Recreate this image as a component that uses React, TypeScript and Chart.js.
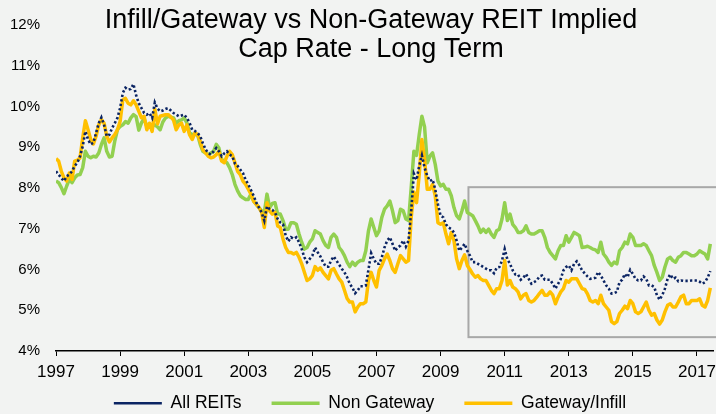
import React, { useEffect, useRef } from "react";
import { Chart, registerables } from "chart.js";

Chart.register(...registerables);

const START_YEAR = 1997;
const X_MIN = 1997;
const X_MAX = 2017.5;
const TICK_YEARS = [1997, 1999, 2001, 2003, 2005, 2007, 2009, 2011, 2013, 2015, 2017];
const Y_MIN = 4;
const Y_MAX = 12;

const TITLE_LINES = ["Infill/Gateway vs Non-Gateway REIT Implied", "Cap Rate - Long Term"];
const SERIES_NAMES = ["All REITs", "Non Gateway", "Gateway/Infill"];

// monthly values, Jan 1997 .. Jun 2017 (percent)
const ALL_REITS = [
  8.41, 8.33, 8.24, 8.17, 8.29, 8.33, 8.41, 8.54, 8.62, 8.78, 9.02, 9.39,
  9.19, 9.07, 9.11, 9.35, 9.59, 9.73, 9.55, 9.27, 9.31, 9.47, 9.59, 9.72,
  9.96, 10.33, 10.46, 10.41, 10.43, 10.55, 10.28, 10.08, 9.96, 9.84, 9.8, 9.84,
  9.72, 10.1, 9.95, 9.88, 9.9, 9.94, 9.96, 9.9, 9.84, 9.8, 9.76, 9.78,
  9.8, 9.72, 9.6, 9.43, 9.4, 9.35, 9.27, 9.1, 8.95, 8.86, 8.82, 8.9,
  8.98, 8.9, 8.78, 8.85, 8.9, 8.82, 8.78, 8.6, 8.54, 8.45, 8.37, 8.2,
  8.09, 7.95, 7.81, 7.64, 7.52, 7.4, 7.2, 7.55, 7.48, 7.46, 7.4, 7.24,
  7.15, 7.11, 6.83, 6.69, 6.79, 6.75, 6.79, 6.67, 6.5, 6.3, 6.18, 6.26,
  6.34, 6.54, 6.42, 6.32, 6.18, 6.07, 6.07, 6.22, 6.32, 6.22, 6.12, 6.02,
  5.93, 5.81, 5.65, 5.55, 5.42, 5.49, 5.59, 5.59, 5.61, 6.0, 6.4, 6.26,
  6.14, 6.14, 6.3, 6.54, 6.71, 6.79, 6.63, 6.46, 6.54, 6.59, 6.71, 6.56,
  6.71, 7.44, 8.35, 8.2, 8.55, 8.8, 8.5, 8.3, 8.17, 8.21, 7.97, 7.6,
  7.32, 7.28, 7.11, 7.03, 6.99, 6.91, 6.71, 6.46, 6.54, 6.63, 6.46, 6.34,
  6.18, 6.18, 6.14, 6.1, 6.06, 6.02, 5.98, 5.98, 5.91, 6.04, 6.06, 6.22,
  6.5, 6.25, 6.14, 5.98, 5.88, 5.88, 5.75, 5.8, 5.89, 5.77, 5.65, 5.69,
  5.73, 5.83, 5.85, 5.75, 5.75, 5.75, 5.65, 5.53, 5.65, 5.77, 5.98, 6.06,
  6.1, 5.98, 6.14, 6.2, 6.1, 5.98, 5.9, 5.83, 5.77, 5.78, 5.8, 5.94,
  5.85, 5.73, 5.61, 5.53, 5.41, 5.42, 5.45, 5.69, 5.75, 5.89, 5.81, 5.99,
  5.89, 5.77, 5.73, 5.73, 5.83, 5.77, 5.61, 5.61, 5.57, 5.37, 5.26, 5.37,
  5.53, 5.77, 5.88, 5.77, 5.8, 5.71, 5.73, 5.72, 5.72, 5.72, 5.73, 5.73,
  5.73, 5.7, 5.65, 5.69, 5.8, 5.96,
];

const NON_GATEWAY = [
  8.17, 8.13, 8.01, 7.86, 8.05, 8.21, 8.13, 8.25, 8.32, 8.33, 8.5, 8.9,
  8.78, 8.74, 8.78, 8.76, 8.86, 9.07, 9.23, 8.9, 8.76, 8.78, 9.15, 9.43,
  9.51, 9.55, 9.63, 9.59, 9.72, 9.8, 9.75, 9.42, 9.6, 9.7, 9.52, 9.55,
  9.51, 9.55, 9.5, 9.43, 9.62, 9.72, 9.76, 9.74, 9.72, 9.59, 9.65, 9.67,
  9.72, 9.6, 9.35, 9.31, 9.31, 9.31, 9.07, 8.9, 8.86, 8.82, 8.86, 8.9,
  9.07, 8.98, 8.7, 8.66, 8.62, 8.5, 8.33, 8.09, 7.93, 7.81, 7.76, 7.72,
  7.72, 7.85, 7.68, 7.6, 7.52, 7.44, 7.4, 7.85, 7.52, 7.62, 7.64, 7.36,
  7.36, 7.2, 6.99, 6.99, 7.15, 7.15, 7.11, 6.87, 6.67, 6.5, 6.54, 6.67,
  6.75, 6.95, 6.91, 6.87, 6.71, 6.59, 6.54, 6.79, 6.87, 6.79, 6.54, 6.46,
  6.34, 6.18, 6.07, 6.18, 6.1, 6.18, 6.22, 6.22, 6.46, 6.95, 7.24, 7.03,
  6.83, 6.95, 7.28, 7.48, 7.56, 7.68, 7.44, 7.15, 7.2, 7.48, 7.44, 7.24,
  7.2, 8.01, 8.9, 8.8, 9.31, 9.76, 9.5, 8.62, 8.78, 8.86, 8.58, 8.17,
  8.05, 8.09, 7.97, 7.97, 7.81, 7.52, 7.32, 7.24, 7.44, 7.68, 7.4, 7.36,
  7.32, 7.2, 7.07, 6.91, 6.99, 6.91, 6.99, 6.87, 6.79, 6.95, 6.99, 7.24,
  7.64, 7.2, 7.36, 7.11, 7.03, 6.91, 6.91, 6.95, 7.07, 6.91, 6.87, 6.87,
  6.91, 6.95, 6.95, 6.79, 6.54, 6.42, 6.34, 6.26, 6.46, 6.59, 6.59, 6.83,
  6.67, 6.79, 6.91, 6.87, 6.83, 6.54, 6.55, 6.57, 6.54, 6.5, 6.48, 6.42,
  6.67, 6.38, 6.3, 6.18, 6.1, 6.18, 6.14, 6.46, 6.54, 6.67, 6.63, 6.87,
  6.79, 6.59, 6.59, 6.59, 6.63, 6.59, 6.46, 6.34, 6.1, 5.93, 5.73, 5.81,
  6.06, 6.26, 6.3, 6.22, 6.18, 6.3, 6.34, 6.42, 6.42, 6.38, 6.34, 6.34,
  6.38, 6.46, 6.42, 6.38, 6.26, 6.63,
];

const GATEWAY_INFILL = [
  8.72, 8.66, 8.41, 8.25, 8.17, 8.37, 8.21, 8.66, 8.68, 8.74, 9.23, 9.65,
  9.43, 9.19, 9.08, 9.27, 9.55, 9.68, 9.59, 9.27, 9.13, 9.23, 9.31, 9.43,
  9.63, 10.16, 10.2, 10.08, 10.04, 10.14, 10.04, 9.88, 9.72, 9.76, 9.43, 9.59,
  9.39, 9.94, 9.57, 9.76, 9.78, 9.8, 9.8, 9.74, 9.67, 9.43, 9.55, 9.59,
  9.39, 9.55, 9.31, 9.19, 9.35, 9.31, 9.15, 8.94, 8.86, 8.78, 8.74, 8.76,
  8.82, 8.9, 8.66, 8.62, 8.78, 8.9, 8.82, 8.62, 8.41, 8.33, 8.17, 8.09,
  7.97, 7.85, 7.68, 7.6, 7.52, 7.4, 7.03, 7.64, 7.44, 7.36, 7.4, 7.07,
  7.03, 6.75, 6.54, 6.42, 6.42, 6.38, 6.42, 6.3, 6.14, 5.93, 5.73, 5.77,
  5.85, 6.07, 5.98, 6.04, 5.93, 5.85, 5.77, 5.98, 6.02, 5.89, 5.77, 5.69,
  5.49, 5.29, 5.2, 5.2, 4.96, 5.08, 5.16, 5.16, 5.2, 5.73, 5.93, 5.73,
  5.57, 5.98, 6.1, 6.26, 6.38, 6.22, 6.02, 5.93, 6.14, 6.34, 6.26, 6.18,
  6.22, 7.28, 7.9, 7.64, 8.33, 9.19, 8.7, 7.97, 7.97, 8.09, 7.81, 7.15,
  7.11, 7.15, 6.87, 6.63, 6.91, 6.71, 6.26, 6.02, 6.22, 6.36, 6.1, 6.0,
  5.89, 5.81, 5.85, 5.77, 5.73, 5.73, 5.61, 5.49, 5.41, 5.53, 5.53, 5.73,
  6.22, 5.62, 5.73, 5.57, 5.53, 5.45, 5.28, 5.37, 5.41, 5.24, 5.2, 5.24,
  5.32, 5.41, 5.49, 5.37, 5.37, 5.45, 5.37, 5.16, 5.32, 5.45, 5.53, 5.73,
  5.69, 5.77, 5.77, 5.77, 5.65, 5.53, 5.51, 5.4, 5.24, 5.2, 5.24, 5.16,
  5.37, 5.16, 5.08, 5.0, 4.72, 4.67, 4.72, 4.92, 5.0, 5.1, 5.04, 5.24,
  5.16, 4.96, 4.92, 4.96, 5.08, 5.2, 5.0, 4.88, 4.92, 4.76, 4.66, 4.76,
  4.96, 5.12, 5.16, 5.08, 5.08, 5.2, 5.33, 5.37, 5.16, 5.16, 5.24, 5.24,
  5.24, 5.28, 5.12, 5.08, 5.24, 5.55,
];

// highlighted post-crisis window (data coordinates)
const HIGHLIGHT_X = [2009.87, 2018.6];
const HIGHLIGHT_Y = [4.34, 8.02];

const BG = "#f2f3f2";
const FONT = '"Liberation Sans", Arial, Helvetica, sans-serif';
const NAVY = "#0b2463";
const GREEN = "#92d050";
const GOLD = "#ffc000";

const toPoints = (vals: number[]) => vals.map((v, i) => ({ x: START_YEAR + i / 12, y: v }));

export default function App() {
  const ref = useRef<HTMLCanvasElement | null>(null);

  useEffect(() => {
    document.body.style.margin = "0";
    document.body.style.background = BG;
    const canvas = ref.current;
    if (!canvas) return;

    const bgPlugin = {
      id: "bgFill",
      beforeDraw(chart: any) {
        const { ctx, width, height } = chart;
        ctx.save();
        ctx.fillStyle = BG;
        ctx.fillRect(0, 0, width, height);
        ctx.restore();
      },
    };

    const boxPlugin = {
      id: "highlightBox",
      beforeDatasetsDraw(chart: any) {
        const { ctx } = chart;
        const xs = chart.scales.x;
        const ys = chart.scales.y;
        const l = xs.getPixelForValue(HIGHLIGHT_X[0]);
        const r = xs.getPixelForValue(HIGHLIGHT_X[1]);
        const t = ys.getPixelForValue(HIGHLIGHT_Y[1]);
        const b = ys.getPixelForValue(HIGHLIGHT_Y[0]);
        ctx.save();
        ctx.strokeStyle = "#a8a8a8";
        ctx.lineWidth = 2;
        ctx.strokeRect(l, t, r - l, b - t);
        ctx.restore();
      },
    };

    const titlePlugin = {
      id: "overlayTitle",
      afterDraw(chart: any) {
        const { ctx } = chart;
        ctx.save();
        ctx.fillStyle = "#000";
        ctx.font = `27px ${FONT}`;
        ctx.textAlign = "center";
        ctx.textBaseline = "middle";
        ctx.fillText(TITLE_LINES[0], 371, 20.5);
        ctx.fillText(TITLE_LINES[1], 371, 49.5);
        ctx.restore();
      },
    };

    const legendShift = {
      id: "legendShift",
      afterLayout(chart: any) {
        const lg = chart.legend;
        if (lg) {
          const h = lg.bottom - lg.top;
          lg.left += 27;
          lg.top = 364.5;
          lg.bottom = lg.top + h;
        }
      },
    };

    const chart = new Chart(canvas, {
      type: "line",
      data: {
        datasets: [
          {
            label: SERIES_NAMES[0],
            data: toPoints(ALL_REITS),
            borderColor: NAVY,
            backgroundColor: NAVY,
            borderWidth: 2.6,
            borderDash: [2.3, 2.3],
            pointRadius: 0,
            tension: 0,
            order: 0,
          },
          {
            label: SERIES_NAMES[1],
            data: toPoints(NON_GATEWAY),
            borderColor: GREEN,
            backgroundColor: GREEN,
            borderWidth: 3.5,
            borderJoinStyle: "round",
            pointRadius: 0,
            tension: 0,
            order: 2,
          },
          {
            label: SERIES_NAMES[2],
            data: toPoints(GATEWAY_INFILL),
            borderColor: GOLD,
            backgroundColor: GOLD,
            borderWidth: 3.5,
            borderJoinStyle: "round",
            pointRadius: 0,
            tension: 0,
            order: 1,
          },
        ],
      },
      options: {
        responsive: false,
        animation: false,
        events: [],
        layout: {
          autoPadding: false,
          padding: { top: 23, right: 3, bottom: -26.5, left: 0 },
        },
        scales: {
          x: {
            type: "linear",
            min: X_MIN,
            max: X_MAX,
            afterBuildTicks: (s: any) => {
              s.ticks = TICK_YEARS.map((v) => ({ value: v }));
            },
            afterFit: (s: any) => {
              s.height = 32;
              s.paddingLeft = 0;
              s.paddingRight = 0;
            },
            border: { display: true, color: "#000", width: 1.5 },
            grid: {
              display: true,
              drawOnChartArea: false,
              drawTicks: true,
              tickLength: 5,
              color: "#000",
              lineWidth: 1,
            },
            ticks: {
              callback: (v: any) => String(v),
              font: { size: 17, family: FONT },
              color: "#000",
              padding: 6,
              maxRotation: 0,
              autoSkip: false,
            },
          },
          y: {
            min: Y_MIN,
            max: Y_MAX,
            afterFit: (s: any) => {
              s.width = 56;
            },
            border: { display: false },
            grid: { display: false, drawTicks: false },
            ticks: {
              stepSize: 1,
              callback: (v: any) => `${v}%`,
              font: { size: 15, family: FONT },
              color: "#000",
              padding: 16,
            },
          },
        },
        plugins: {
          title: { display: false },
          tooltip: { enabled: false },
          legend: {
            display: true,
            position: "bottom",
            labels: {
              usePointStyle: true,
              pointStyle: "line",
              pointStyleWidth: 48,
              font: { size: 17.5, family: FONT },
              color: "#000",
              padding: 30,
              sort: (a: any, b: any) => a.datasetIndex - b.datasetIndex,
            },
          },
        },
      },
      plugins: [bgPlugin, boxPlugin, titlePlugin, legendShift],
    } as any);

    return () => chart.destroy();
  }, []);

  return (
    <div style={{ width: 716, height: 414, background: BG }}>
      <canvas ref={ref} width={716} height={414} style={{ display: "block", width: 716, height: 414 }} />
    </div>
  );
}
